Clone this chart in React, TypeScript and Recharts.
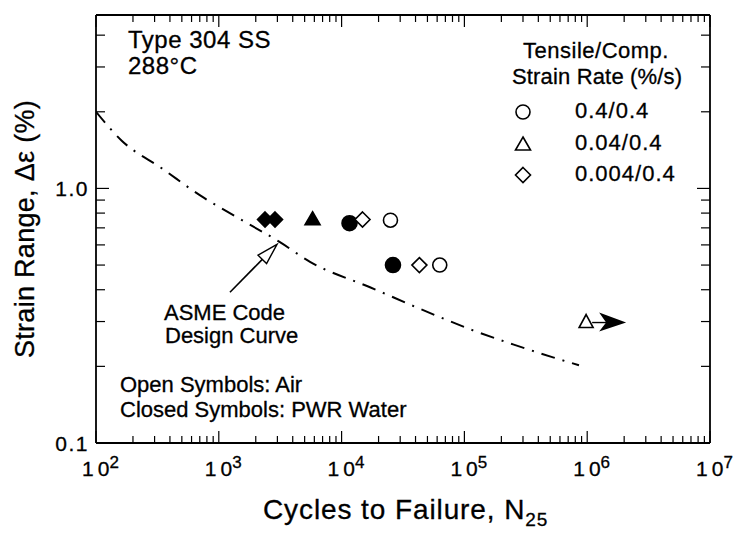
import React from "react";
import { ComposedChart, XAxis, YAxis, Scatter, Line, ReferenceLine } from "recharts";

const FONT = '"Liberation Sans", Arial, Helvetica, sans-serif';

// cycles to failure (n) vs strain range in % (s)
const asmeCurve = [
  { n: 100, s: 2.0 },
  { n: 162, s: 1.54 },
  { n: 343, s: 1.2 },
  { n: 726, s: 0.93 },
  { n: 1406, s: 0.77 },
  { n: 3148, s: 0.615 },
  { n: 5530, s: 0.515 },
  { n: 17030, s: 0.409 },
  { n: 57600, s: 0.318 },
  { n: 117500, s: 0.277 },
  { n: 249000, s: 0.244 },
  { n: 527000, s: 0.217 },
  { n: 857000, s: 0.202 },
];

const airCircle = [{ n: 25000, s: 0.75 }, { n: 63000, s: 0.5 }];
const airTriangle = [{ n: 980000, s: 0.3 }];
const airDiamond = [{ n: 14800, s: 0.755 }, { n: 43000, s: 0.5 }];
const waterCircle = [{ n: 11600, s: 0.73 }, { n: 26200, s: 0.5 }];
const waterTriangle = [{ n: 5800, s: 0.76 }];
const waterDiamond = [{ n: 2380, s: 0.755 }, { n: 2870, s: 0.755 }];

const xMajor = [1e2, 1e3, 1e4, 1e5, 1e6, 1e7];
const xMinorMult = [2, 3, 4, 5, 6, 7, 8, 9];
const xTicks: number[] = [];
xMajor.forEach((d, i) => {
  xTicks.push(d);
  if (i < xMajor.length - 1) xMinorMult.forEach((m) => xTicks.push(m * d));
});
const yTicks = [0.1, 0.2, 0.3, 0.4, 0.5, 0.6, 0.7, 0.8, 0.9, 1, 2, 3, 4];
const yLabels: Record<string, string> = { "0.1": "0.1", "1": "1.0" };

const legendItems = ["0.4/0.4", "0.04/0.4", "0.004/0.4"];

const isMajorX = (v: number) => xMajor.includes(v);
const isMajorY = (v: number) => v === 0.1 || v === 1;

const BottomTick = (p: any) => {
  const v = p.payload.value;
  const major = isMajorX(v);
  const exp = Math.round(Math.log10(v));
  return (
    <g>
      <line x1={p.x} x2={p.x} y1={p.y} y2={p.y - (major ? 12 : 7)} stroke="#000" strokeWidth={1.2} />
      {major && (
        <text x={p.x - 14} y={p.y + 33} fontFamily={FONT} fontSize={21} fill="#000" stroke="#000" strokeWidth={0.3}>
          <tspan>1</tspan>
          <tspan dx={4}>0</tspan>
          <tspan dy={-8} fontSize={17}>{exp}</tspan>
        </text>
      )}
    </g>
  );
};

const TopTick = (p: any) => {
  const major = isMajorX(p.payload.value);
  return <line x1={p.x} x2={p.x} y1={p.y} y2={p.y + (major ? 12 : 7)} stroke="#000" strokeWidth={1.2} />;
};

const LeftTick = (p: any) => {
  const v = p.payload.value;
  const major = isMajorY(v);
  const label = yLabels[String(v)];
  return (
    <g>
      <line x1={p.x} x2={p.x + (major ? 13 : 9)} y1={p.y} y2={p.y} stroke="#000" strokeWidth={1.2} />
      {label && (
        <text
          x={p.x - 7}
          y={p.y + 8}
          textAnchor="end"
          fontFamily={FONT}
          fontSize={21}
          letterSpacing={1.5}
          fill="#000"
          stroke="#000"
          strokeWidth={0.3}
        >
          {label}
        </text>
      )}
    </g>
  );
};

const RightTick = (p: any) => {
  const major = isMajorY(p.payload.value);
  return <line x1={p.x} x2={p.x - (major ? 13 : 9)} y1={p.y} y2={p.y} stroke="#000" strokeWidth={1.2} />;
};

const circle = (filled: boolean) => (p: any) => (
  <circle cx={p.cx} cy={p.cy} r={filled ? 7.5 : 7} fill={filled ? "#000" : "#fff"} stroke="#000" strokeWidth={1.6} />
);
const diamond = (filled: boolean) => (p: any) => (
  <polygon
    points={`${p.cx},${p.cy - 7.5} ${p.cx + 7.5},${p.cy} ${p.cx},${p.cy + 7.5} ${p.cx - 7.5},${p.cy}`}
    fill={filled ? "#000" : "#fff"}
    stroke="#000"
    strokeWidth={1.6}
  />
);
const triangle = (filled: boolean) => (p: any) => (
  <polygon
    points={`${p.cx},${p.cy - 7} ${p.cx + 7.5},${p.cy + 6} ${p.cx - 7.5},${p.cy + 6}`}
    fill={filled ? "#000" : "#fff"}
    stroke="#000"
    strokeWidth={1.6}
  />
);
// open triangle with runout arrow (test did not fail)
const runoutTriangle = (p: any) => (
  <g>
    <line x1={p.cx + 6} x2={p.cx + 21} y1={p.cy + 1} y2={p.cy + 1} stroke="#000" strokeWidth={1.4} />
    <polygon
      points={`${p.cx + 40},${p.cy + 1} ${p.cx + 13},${p.cy - 9} ${p.cx + 20},${p.cy + 1} ${p.cx + 13},${p.cy + 10}`}
      fill="#000"
    />
    <polygon
      points={`${p.cx},${p.cy - 7} ${p.cx + 7},${p.cy + 6} ${p.cx - 7},${p.cy + 6}`}
      fill="#fff"
      stroke="#000"
      strokeWidth={1.6}
    />
  </g>
);

const AnnotationArrow = (p: any) => {
  const { x1, y1, x2, y2 } = p;
  const dx = x2 - x1;
  const dy = y2 - y1;
  const len = Math.sqrt(dx * dx + dy * dy);
  const ux = dx / len;
  const uy = dy / len;
  const hl = 21;
  const hw = 6;
  const bx = x2 - ux * hl;
  const by = y2 - uy * hl;
  return (
    <g>
      <line x1={x1} y1={y1} x2={bx} y2={by} stroke="#000" strokeWidth={1.6} />
      <polygon
        points={`${x2},${y2} ${bx - uy * hw},${by + ux * hw} ${bx + uy * hw},${by - ux * hw}`}
        fill="#fff"
        stroke="#000"
        strokeWidth={1.4}
      />
    </g>
  );
};

const axisLine = { stroke: "#000", strokeWidth: 1.8 };

export default function App() {
  const legendIcons = [circle(false), triangle(false), diamond(false)];
  return (
    <div style={{ position: "absolute", left: 0, top: 0, width: 740, height: 533, background: "#fff" }}>
      <ComposedChart width={740} height={533} margin={{ top: 14, right: 29, bottom: 0, left: 0 }}>
        <XAxis
          xAxisId="b"
          type="number"
          dataKey="n"
          scale="log"
          domain={[100, 1e7]}
          allowDataOverflow
          ticks={xTicks}
          interval={0}
          tick={<BottomTick />}
          tickLine={false}
          tickSize={0}
          tickMargin={0}
          height={90}
          axisLine={axisLine}
        />
        <XAxis
          xAxisId="t"
          orientation="top"
          type="number"
          dataKey="n"
          scale="log"
          domain={[100, 1e7]}
          allowDataOverflow
          ticks={xTicks}
          interval={0}
          tick={<TopTick />}
          tickLine={false}
          tickSize={0}
          tickMargin={0}
          height={1}
          axisLine={axisLine}
        />
        <YAxis
          yAxisId="l"
          type="number"
          dataKey="s"
          scale="log"
          domain={[0.1, 4.8]}
          allowDataOverflow
          ticks={yTicks}
          interval={0}
          tick={<LeftTick />}
          tickLine={false}
          tickSize={0}
          tickMargin={0}
          width={96}
          axisLine={axisLine}
        />
        <YAxis
          yAxisId="r"
          orientation="right"
          type="number"
          dataKey="s"
          scale="log"
          domain={[0.1, 4.8]}
          allowDataOverflow
          ticks={yTicks}
          interval={0}
          tick={<RightTick />}
          tickLine={false}
          tickSize={0}
          tickMargin={0}
          width={1}
          axisLine={axisLine}
        />
        <Line
          xAxisId="b"
          yAxisId="l"
          data={asmeCurve}
          dataKey="s"
          type="monotone"
          stroke="#000"
          strokeWidth={2}
          strokeDasharray="14 8 2 8"
          dot={false}
          activeDot={false}
          isAnimationActive={false}
        />
        <ReferenceLine
          xAxisId="b"
          yAxisId="l"
          segment={[{ x: 1233, y: 0.391 }, { x: 2979, y: 0.603 }]}
          shape={AnnotationArrow}
          ifOverflow="visible"
        />
        <Scatter xAxisId="b" yAxisId="l" data={waterDiamond} dataKey="s" shape={diamond(true)} isAnimationActive={false} />
        <Scatter xAxisId="b" yAxisId="l" data={waterTriangle} dataKey="s" shape={triangle(true)} isAnimationActive={false} />
        <Scatter xAxisId="b" yAxisId="l" data={waterCircle} dataKey="s" shape={circle(true)} isAnimationActive={false} />
        <Scatter xAxisId="b" yAxisId="l" data={airDiamond} dataKey="s" shape={diamond(false)} isAnimationActive={false} />
        <Scatter xAxisId="b" yAxisId="l" data={airCircle} dataKey="s" shape={circle(false)} isAnimationActive={false} />
        <Scatter xAxisId="b" yAxisId="l" data={airTriangle} dataKey="s" shape={runoutTriangle} isAnimationActive={false} />
      </ComposedChart>
      <svg
        width={740}
        height={533}
        style={{ position: "absolute", left: 0, top: 0, pointerEvents: "none" }}
        fontFamily={FONT}
        fill="#000"
        stroke="#000"
        strokeWidth={0.3}
      >
        <text x={128} y={48} fontSize={24} letterSpacing={0.5}>Type 304 SS</text>
        <text x={128} y={74} fontSize={24} letterSpacing={0.5}>288°C</text>
        <text x={596} y={58} fontSize={22} letterSpacing={0.5} textAnchor="middle">Tensile/Comp.</text>
        <text x={597} y={84} fontSize={22} textAnchor="middle" textLength={170}>Strain Rate (%/s)</text>
        {legendItems.map((label, i) => {
          const by = [118, 150, 181][i];
          const Icon = legendIcons[i];
          return (
            <g key={label} strokeWidth={0.3}>
              <Icon cx={523} cy={by - 6} />
              <text x={575} y={by} fontSize={22} letterSpacing={1}>{label}</text>
            </g>
          );
        })}
        <text x={164} y={320} fontSize={22}>ASME Code</text>
        <text x={165} y={343} fontSize={22}>Design Curve</text>
        <text x={120} y={392} fontSize={22}>Open Symbols: Air</text>
        <text x={120} y={417} fontSize={22}>Closed Symbols: PWR Water</text>
        <text x={263} y={519} fontSize={28} letterSpacing={0.9}>
          Cycles to Failure, N<tspan fontSize={19} dy={7}>25</tspan>
        </text>
        <text transform="translate(34,229) rotate(-90)" fontSize={27} letterSpacing={0.3} textAnchor="middle">
          Strain Range, Δε (%)
        </text>
      </svg>
    </div>
  );
}
